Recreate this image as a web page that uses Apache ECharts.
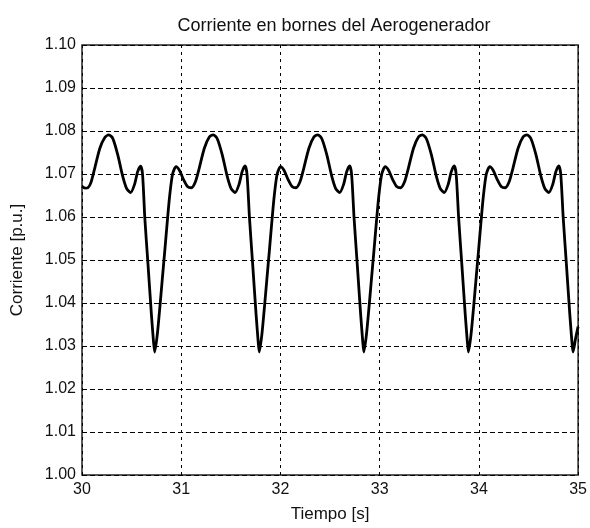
<!DOCTYPE html>
<html>
<head>
<meta charset="utf-8">
<title>Corriente en bornes del Aerogenerador</title>
<script src="https://cdn.jsdelivr.net/npm/echarts@6/dist/echarts.min.js"></script>
<style>
  html, body { margin: 0; padding: 0; background: #fff; }
  #chart { width: 590px; height: 528px; }
</style>
</head>
<body>
<div id="chart"></div>
<script>
// Axis ticks
const xTicks = [30, 31, 32, 33, 34, 35];
const yTicks = [1.00, 1.01, 1.02, 1.03, 1.04, 1.05, 1.06, 1.07, 1.08, 1.09, 1.10];

// Sample times [s]
const tiempo = [
  30.000, 30.030, 30.060, 30.090, 30.130, 30.180, 30.230, 30.270, 30.310, 30.360,
  30.410, 30.450, 30.490, 30.530, 30.560, 30.590, 30.610, 30.633, 30.666, 30.700,
  30.720, 30.733,
  30.758, 30.783, 30.808, 30.833, 30.858, 30.883, 30.913, 30.948, 30.983, 31.023,
  31.063, 31.103, 31.143, 31.183, 31.233, 31.283, 31.323, 31.363, 31.413, 31.463,
  31.503, 31.543, 31.583, 31.613, 31.643, 31.663, 31.688, 31.721, 31.755, 31.775,
  31.787,
  31.812, 31.837, 31.862, 31.887, 31.912, 31.937, 31.967, 32.002, 32.037, 32.077,
  32.117, 32.157, 32.197, 32.237, 32.287, 32.337, 32.377, 32.417, 32.467, 32.517,
  32.557, 32.597, 32.637, 32.667, 32.697, 32.717, 32.742, 32.775, 32.809, 32.829,
  32.841,
  32.866, 32.891, 32.916, 32.941, 32.966, 32.991, 33.021, 33.056, 33.091, 33.131,
  33.171, 33.211, 33.251, 33.291, 33.341, 33.391, 33.431, 33.471, 33.521, 33.571,
  33.611, 33.651, 33.691, 33.721, 33.751, 33.771, 33.796, 33.829, 33.863, 33.883,
  33.895,
  33.920, 33.945, 33.970, 33.995, 34.020, 34.045, 34.075, 34.110, 34.145, 34.185,
  34.225, 34.265, 34.305, 34.345, 34.395, 34.445, 34.485, 34.525, 34.575, 34.625,
  34.665, 34.705, 34.745, 34.775, 34.805, 34.825, 34.850, 34.883, 34.917, 34.937,
  34.949, 34.975, 35.000
];

// Terminal current [p.u.]
const corriente = [
  1.0671, 1.0667, 1.0668, 1.0680, 1.0715, 1.0760, 1.0785, 1.0791, 1.0783, 1.0745,
  1.0695, 1.0666, 1.0657, 1.0676, 1.0705, 1.0718, 1.0700, 1.0598, 1.0487, 1.0372,
  1.0312, 1.0286,
  1.0325, 1.0386, 1.0452, 1.0518, 1.0585, 1.0648, 1.0700, 1.0717, 1.0708, 1.0687,
  1.0671, 1.0668, 1.0682, 1.0715, 1.0760, 1.0786, 1.0791, 1.0782, 1.0745, 1.0695,
  1.0666, 1.0657, 1.0676, 1.0705, 1.0719, 1.0700, 1.0598, 1.0487, 1.0372, 1.0312,
  1.0286,
  1.0325, 1.0386, 1.0452, 1.0518, 1.0585, 1.0648, 1.0700, 1.0717, 1.0708, 1.0687,
  1.0671, 1.0668, 1.0682, 1.0715, 1.0760, 1.0786, 1.0791, 1.0782, 1.0745, 1.0695,
  1.0666, 1.0657, 1.0676, 1.0705, 1.0719, 1.0700, 1.0598, 1.0487, 1.0372, 1.0312,
  1.0286,
  1.0325, 1.0386, 1.0452, 1.0518, 1.0585, 1.0648, 1.0700, 1.0717, 1.0708, 1.0687,
  1.0671, 1.0668, 1.0682, 1.0715, 1.0760, 1.0786, 1.0791, 1.0782, 1.0745, 1.0695,
  1.0666, 1.0657, 1.0676, 1.0705, 1.0719, 1.0700, 1.0598, 1.0487, 1.0372, 1.0312,
  1.0286,
  1.0325, 1.0386, 1.0452, 1.0518, 1.0585, 1.0648, 1.0700, 1.0717, 1.0708, 1.0687,
  1.0671, 1.0668, 1.0682, 1.0715, 1.0760, 1.0786, 1.0791, 1.0782, 1.0745, 1.0695,
  1.0666, 1.0657, 1.0676, 1.0705, 1.0719, 1.0700, 1.0598, 1.0487, 1.0372, 1.0312,
  1.0286, 1.0318, 1.0345
];

const FONT = "'Liberation Sans', Arial, sans-serif";
const TEXT = '#111';

const puntos = tiempo.map((t, i) => [t, corriente[i]]);

const chart = echarts.init(document.getElementById('chart'), null, { renderer: 'canvas' });

chart.setOption({
  backgroundColor: '#fff',
  animation: false,
  title: {
    text: 'Corriente en bornes del Aerogenerador',
    left: 329,
    top: 12,
    textAlign: 'center',
    textStyle: { fontFamily: FONT, fontSize: 18, fontWeight: 'normal', color: TEXT }
  },
  grid: {
    left: 82, right: 10, top: 45, bottom: 51,
    show: true,
    borderColor: '#222',
    borderWidth: 1.5,
    backgroundColor: '#fff'
  },
  xAxis: {
    type: 'value',
    min: xTicks[0],
    max: xTicks[xTicks.length - 1],
    interval: 1,
    name: 'Tiempo [s]',
    nameLocation: 'middle',
    nameGap: 31,
    nameTextStyle: { fontFamily: FONT, fontSize: 17, color: TEXT },
    axisLine: { show: false },
    axisTick: { show: false },
    axisLabel: { fontFamily: FONT, fontSize: 16, color: TEXT, margin: 7 },
    splitLine: { show: true, lineStyle: { color: '#000', width: 1, type: [3, 4] } }
  },
  yAxis: {
    type: 'value',
    min: yTicks[0],
    max: yTicks[yTicks.length - 1],
    interval: 0.01,
    name: 'Corriente [p.u.]',
    nameLocation: 'middle',
    nameGap: 56,
    nameRotate: 90,
    nameTextStyle: { fontFamily: FONT, fontSize: 17, color: TEXT },
    axisLine: { show: false },
    axisTick: { show: false },
    axisLabel: {
      fontFamily: FONT, fontSize: 16, color: TEXT, margin: 6,
      formatter: v => v.toFixed(2)
    },
    splitLine: { show: true, lineStyle: { color: '#000', width: 1, type: [5, 3] } }
  },
  series: [{
    type: 'line',
    data: puntos,
    showSymbol: false,
    smooth: 0.25,
    lineStyle: { color: '#000', width: 2.8 },
    z: 5
  }]
});
</script>
</body>
</html>
